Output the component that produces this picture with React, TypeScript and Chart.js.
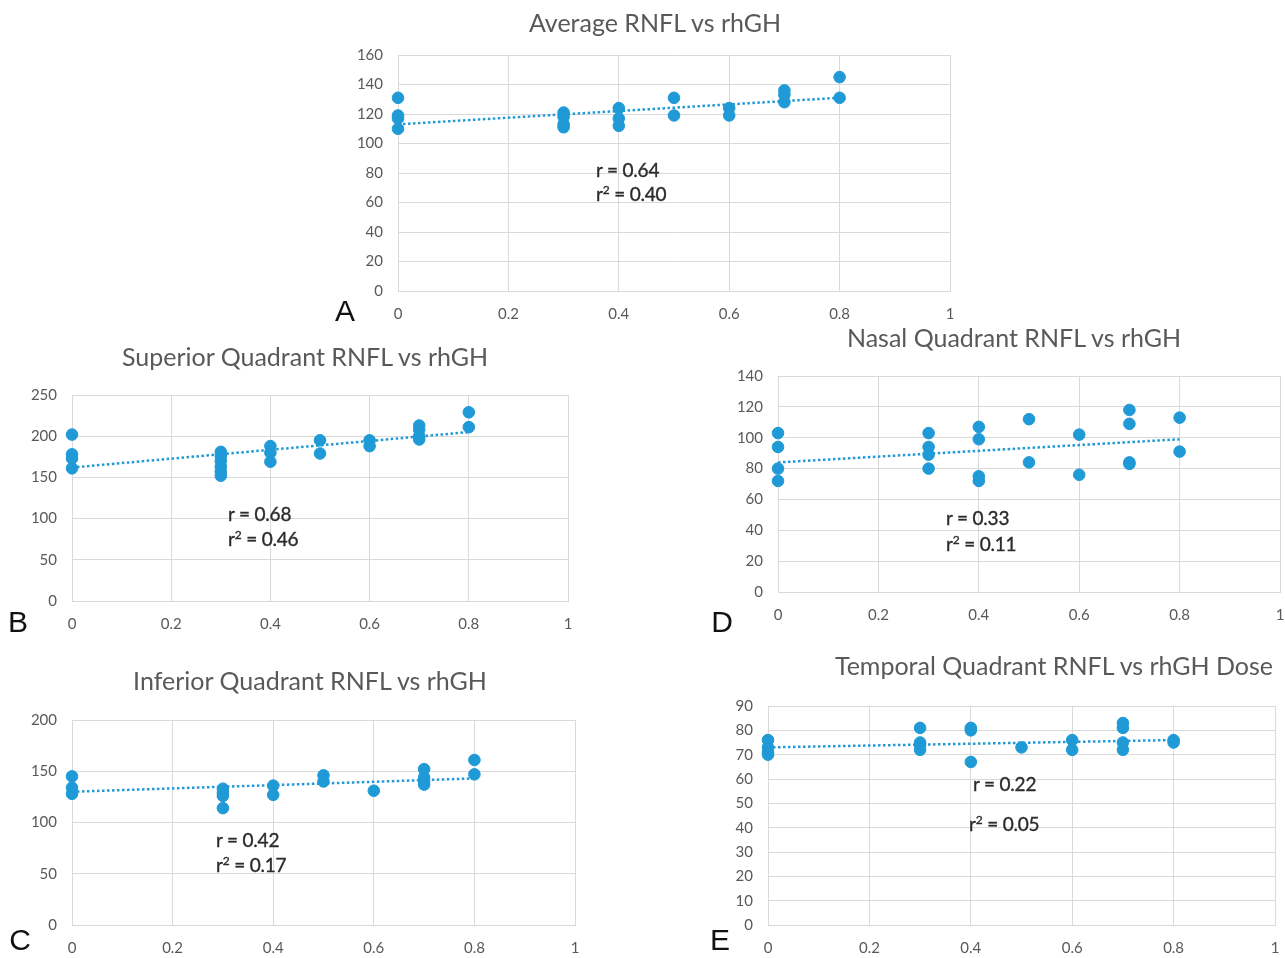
import React, { useEffect, useRef } from "react";
import { Chart, registerables } from "chart.js";

Chart.register(...registerables);

const BLUE = "#1f9ad6";
const GRID = "#d9d9d9";
const TICK = "#595959";
const FONT = "Lato, 'Open Sans', sans-serif";

// Chart A: Average RNFL vs rhGH
const doseA = [0, 0, 0, 0, 0.3, 0.3, 0.3, 0.3, 0.4, 0.4, 0.4, 0.5, 0.5, 0.6, 0.6, 0.7, 0.7, 0.7, 0.8, 0.8];
const rnflA = [131, 119, 117, 110, 121, 118, 113, 111, 124, 117, 112, 131, 119, 124, 119, 136, 133, 128, 145, 131];
const trendA = [113, 131];

// Chart B: Superior Quadrant
const doseB = [0, 0, 0, 0, 0.3, 0.3, 0.3, 0.3, 0.3, 0.3, 0.4, 0.4, 0.4, 0.5, 0.5, 0.6, 0.6, 0.7, 0.7, 0.7, 0.7, 0.8, 0.8];
const rnflB = [202, 178, 173, 161, 181, 176, 170, 163, 157, 152, 188, 180, 169, 195, 179, 195, 188, 213, 208, 200, 196, 229, 211];
const trendB = [162, 205];

// Chart C: Inferior Quadrant
const doseC = [0, 0, 0, 0.3, 0.3, 0.3, 0.3, 0.4, 0.4, 0.5, 0.5, 0.6, 0.7, 0.7, 0.7, 0.7, 0.8, 0.8];
const rnflC = [145, 134, 128, 133, 129, 126, 114, 136, 127, 146, 140, 131, 152, 144, 140, 137, 161, 147];
const trendC = [130, 143];

// Chart D: Nasal Quadrant
const doseD = [0, 0, 0, 0, 0.3, 0.3, 0.3, 0.3, 0.4, 0.4, 0.4, 0.4, 0.5, 0.5, 0.6, 0.6, 0.7, 0.7, 0.7, 0.7, 0.8, 0.8];
const rnflD = [103, 94, 80, 72, 103, 94, 89, 80, 107, 99, 75, 72, 112, 84, 102, 76, 118, 109, 84, 83, 113, 91];
const trendD = [84, 99];

// Chart E: Temporal Quadrant
const doseE = [0, 0, 0, 0, 0.3, 0.3, 0.3, 0.3, 0.4, 0.4, 0.4, 0.5, 0.6, 0.6, 0.7, 0.7, 0.7, 0.7, 0.8, 0.8];
const rnflE = [76, 73, 71, 70, 81, 75, 74, 72, 81, 80, 67, 73, 76, 72, 83, 81, 75, 72, 76, 75];
const trendE = [73, 76];

const trendDose = [0, 0.8];
const xTicks = [0, 0.2, 0.4, 0.6, 0.8, 1];

type PanelCfg = {
  dose: number[];
  rnfl: number[];
  trend: number[];
  yMax: number;
  yStep: number;
  left: number;
  top: number;
  right: number;
  bottom: number;
  title: string;
  titleX: number;
  titleY: number;
  letter: string;
  letterX: number;
  letterY: number;
  r: string;
  r2: string;
  rX: number;
  rY: number;
  r2X: number;
  r2Y: number;
};

const panels: PanelCfg[] = [
  { dose: doseA, rnfl: rnflA, trend: trendA, yMax: 160, yStep: 20, left: 398, top: 55, right: 950, bottom: 291,
    title: "Average RNFL vs rhGH", titleX: 655, titleY: 22, letter: "A", letterX: 345, letterY: 311,
    r: "r = 0.64", r2: "0.40", rX: 596, rY: 169, r2X: 596, r2Y: 193 },
  { dose: doseB, rnfl: rnflB, trend: trendB, yMax: 250, yStep: 50, left: 72, top: 395, right: 568, bottom: 601,
    title: "Superior Quadrant RNFL vs rhGH", titleX: 305, titleY: 356, letter: "B", letterX: 18, letterY: 622,
    r: "r = 0.68", r2: "0.46", rX: 228, rY: 513, r2X: 228, r2Y: 538 },
  { dose: doseC, rnfl: rnflC, trend: trendC, yMax: 200, yStep: 50, left: 72, top: 720, right: 575, bottom: 925,
    title: "Inferior Quadrant RNFL vs rhGH", titleX: 310, titleY: 680, letter: "C", letterX: 20, letterY: 940,
    r: "r = 0.42", r2: "0.17", rX: 216, rY: 839, r2X: 216, r2Y: 864 },
  { dose: doseD, rnfl: rnflD, trend: trendD, yMax: 140, yStep: 20, left: 778, top: 376, right: 1280, bottom: 592,
    title: "Nasal Quadrant RNFL vs rhGH", titleX: 1014, titleY: 337, letter: "D", letterX: 722, letterY: 622,
    r: "r = 0.33", r2: "0.11", rX: 946, rY: 517, r2X: 946, r2Y: 543 },
  { dose: doseE, rnfl: rnflE, trend: trendE, yMax: 90, yStep: 10, left: 768, top: 706, right: 1275, bottom: 925,
    title: "Temporal Quadrant RNFL vs rhGH Dose", titleX: 1054, titleY: 665, letter: "E", letterX: 720, letterY: 940,
    r: "r = 0.22", r2: "0.05", rX: 973, rY: 783, r2X: 969, r2Y: 823 },
];

const PAD_L = 60;
const PAD_T = 28;
const PAD_R = 26;
const PAD_B = 36;

const annStyle = (x: number, y: number): React.CSSProperties => ({
  position: "absolute",
  left: x,
  top: y,
  transform: "translateY(-50%)",
  whiteSpace: "nowrap",
  fontFamily: FONT,
  fontSize: 19,
  lineHeight: 1,
  letterSpacing: -0.2,
  color: "#2b2b2b",
  WebkitTextStroke: "0.35px #2b2b2b",
});

function Panel({ p }: { p: PanelCfg }) {
  const ref = useRef<HTMLCanvasElement | null>(null);
  const w = p.right - p.left + PAD_L + PAD_R;
  const h = p.bottom - p.top + PAD_T + PAD_B;

  useEffect(() => {
    if (!ref.current) return;
    const chart = new Chart(ref.current, {
      type: "scatter",
      data: {
        datasets: [
          {
            type: "line",
            data: trendDose.map((d, i) => ({ x: d, y: p.trend[i] })),
            borderColor: BLUE,
            borderWidth: 2.5,
            borderDash: [2.5, 2.5],
            pointRadius: 0,
            fill: false,
            clip: false,
          } as any,
          {
            type: "scatter",
            data: p.dose.map((d, i) => ({ x: d, y: p.rnfl[i] })),
            backgroundColor: BLUE,
            borderColor: BLUE,
            pointRadius: 5.8,
            pointHoverRadius: 5.8,
            clip: false,
          } as any,
        ],
      },
      options: {
        responsive: false,
        animation: false,
        layout: { padding: { top: PAD_T, right: PAD_R, left: 0, bottom: 0 } },
        plugins: { legend: { display: false }, tooltip: { enabled: false }, title: { display: false } },
        scales: {
          x: {
            type: "linear",
            min: 0,
            max: 1,
            afterBuildTicks: (s: any) => {
              s.ticks = xTicks.map((v) => ({ value: v }));
            },
            ticks: {
              color: TICK,
              font: { family: FONT, size: 15 },
              padding: 14,
              callback: (v: any) => String(Math.round(Number(v) * 10) / 10),
            },
            grid: { color: GRID, drawTicks: false, lineWidth: 1 },
            border: { color: GRID },
            afterFit: (s: any) => {
              s.height = PAD_B;
            },
          },
          y: {
            min: 0,
            max: p.yMax,
            ticks: {
              stepSize: p.yStep,
              color: TICK,
              font: { family: FONT, size: 15 },
              padding: 15,
            },
            grid: { color: GRID, drawTicks: false, lineWidth: 1 },
            border: { color: GRID },
            afterFit: (s: any) => {
              s.width = PAD_L;
            },
          },
        },
      },
    });
    return () => chart.destroy();
  }, []);

  return (
    <>
      <canvas
        ref={ref}
        width={w}
        height={h}
        style={{ position: "absolute", left: p.left - PAD_L, top: p.top - PAD_T, width: w, height: h }}
      />
      <div
        style={{
          position: "absolute",
          left: p.titleX,
          top: p.titleY,
          transform: "translate(-50%, -50%)",
          whiteSpace: "nowrap",
          fontFamily: FONT,
          fontSize: 25,
          lineHeight: 1,
          color: TICK,
        }}
      >
        {p.title}
      </div>
      <div
        style={{
          position: "absolute",
          left: p.letterX,
          top: p.letterY,
          transform: "translate(-50%, -50%)",
          fontFamily: "'Liberation Sans', Arial, sans-serif",
          fontSize: 30,
          lineHeight: 1,
          color: "#111",
        }}
      >
        {p.letter}
      </div>
      <div style={annStyle(p.rX, p.rY)}>{p.r}</div>
      <div style={annStyle(p.r2X, p.r2Y)}>
        r<sup style={{ fontSize: 12, verticalAlign: "top", lineHeight: 1 }}>2</sup> = {p.r2}
      </div>
    </>
  );
}

export default function App() {
  return (
    <div style={{ position: "absolute", left: 0, top: 0, width: 1285, height: 958, background: "#fff" }}>
      {panels.map((p) => (
        <Panel key={p.letter} p={p} />
      ))}
    </div>
  );
}
